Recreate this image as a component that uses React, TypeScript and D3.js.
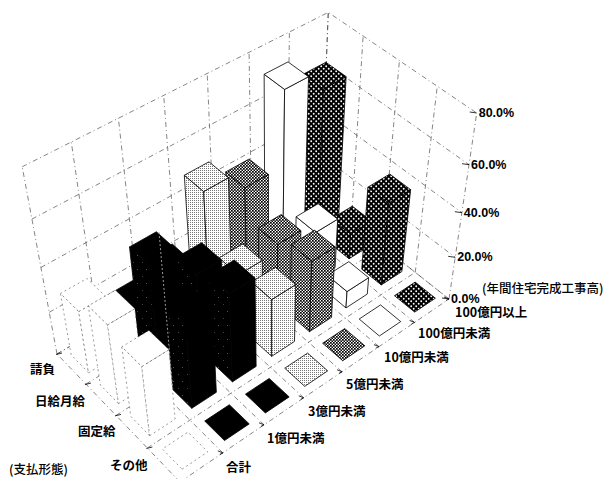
import React from "react";
import * as d3 from "d3";

// Axis categories
const sizeLabels = ["合計", "1億円未満", "3億円未満", "5億円未満", "10億円未満", "100億円未満", "100億円以上"];
const payLabels = ["その他", "固定給", "日給月給", "請負"];
const percentTicks = [0, 20, 40, 60, 80];

// Share of firms (%), one list per payment type, ordered as sizeLabels
const sonota = [0, 0, 0, 0, 0, 0, 0];
const koteikyu = [33, 40, 41, 27, 33, 8, 38];
const nikkyu = [37, 51, 36, 25, 28, 23, 12];
const ukeoi = [29, 17, 23, 49, 41, 72, 64];
const rows = [sonota, koteikyu, nikkyu, ukeoi];

const fillBySize = ["white", "url(#solid)", "url(#solid)", "url(#light)", "url(#gray)", "white", "url(#dots)"];
const leftFillBySize = ["white", "url(#speck)", "url(#speck)", "url(#light)", "url(#gray)", "white", "url(#dots)"];

// Corners of the floor on the page and the convergence point of the uprights
const F = [180, 482], R = [449, 299], B = [321, 198], L = [57, 354];
const VP = [270, 1500];
const rightTop = 113;

const dx3 = F[0] - R[0] + B[0] - L[0], dy3 = F[1] - R[1] + B[1] - L[1];
const dx1 = R[0] - B[0], dx2 = L[0] - B[0], dy1 = R[1] - B[1], dy2 = L[1] - B[1];
const den = dx1 * dy2 - dx2 * dy1;
const g = (dx3 * dy2 - dx2 * dy3) / den, h = (dx1 * dy3 - dx3 * dy1) / den;
const a = R[0] - F[0] + g * R[0], b = L[0] - F[0] + h * L[0];
const d = R[1] - F[1] + g * R[1], e = L[1] - F[1] + h * L[1];
const lift = ((1 + g) * (rightTop - R[1])) / (VP[1] - rightTop);

const zScale = d3.scaleLinear().domain([0, 80]).range([0, 1]);
const uBand = d3.scaleBand<string>().domain(sizeLabels).range([0, 1]).paddingInner(0.4).paddingOuter(0.2);
const vBand = d3.scaleBand<string>().domain(payLabels).range([0, 1]).paddingInner(0.4).paddingOuter(0.2);

function project(u: number, v: number, pct = 0): [number, number] {
  const t = lift * zScale(pct);
  const w = g * u + h * v + 1 + t;
  return [(a * u + b * v + F[0] + t * VP[0]) / w, (d * u + e * v + F[1] + t * VP[1]) / w];
}

const line = d3.line();
const closed = (pts: [number, number][]) => line(pts) + "Z";

const uTicks = d3.range(0, 8).map((i) => i / 7);
const vTicks = d3.range(0, 5).map((i) => i / 4);

const gridStyle = { stroke: "#333", strokeWidth: 0.6, strokeDasharray: "5 3 1 3", fill: "none" };

function Bar({ i, j }: { i: number; j: number }) {
  const u0 = uBand(sizeLabels[i])!, u1 = u0 + uBand.bandwidth();
  const v0 = vBand(payLabels[j])!, v1 = v0 + vBand.bandwidth();
  const val = rows[j][i];
  const faint = i === 0;
  const style = faint
    ? { stroke: "#555", strokeWidth: 0.6, strokeDasharray: "2 3" }
    : { stroke: "#000", strokeWidth: 0.8 };
  return (
    <g style={style as React.CSSProperties}>
      {val > 0 && (
        <>
          <path d={closed([project(u0, v0), project(u0, v1), project(u0, v1, val), project(u0, v0, val)])} fill={leftFillBySize[i]} />
          <path d={closed([project(u0, v0), project(u1, v0), project(u1, v0, val), project(u0, v0, val)])} fill={fillBySize[i]} />
        </>
      )}
      <path d={closed([project(u0, v0, val), project(u1, v0, val), project(u1, v1, val), project(u0, v1, val)])} fill={fillBySize[i]} />
    </g>
  );
}

const textStyle: React.CSSProperties = { fontFamily: "'Noto Sans CJK JP', sans-serif", fontSize: 12.5, fontWeight: 700, fill: "#000" };
const numStyle: React.CSSProperties = { fontFamily: "'Liberation Sans', sans-serif", fontSize: 12.5, fontWeight: 700, fill: "#000" };

const sizeLabelPos = [[226, 472], [267, 443], [308, 416], [346, 389], [384, 362], [418, 338], [455, 317]];
const payLabelPos = [[110, 470], [78, 436], [35, 406], [30, 374]];

// Light corner guide showing through the black columns
const guideU = uBand(sizeLabels[1])!;
const guideV = vBand(payLabels[1])! + vBand.bandwidth();

export default function App() {
  return (
    <svg width={604} height={479} style={{ position: "absolute", left: 0, top: 0, background: "#fff" }}>
      <defs>
        <pattern id="solid" width="4" height="4" patternUnits="userSpaceOnUse">
          <rect width="4" height="4" fill="#000" />
        </pattern>
        <pattern id="speck" width="9" height="14" patternUnits="userSpaceOnUse">
          <rect width="9" height="14" fill="#000" />
          <rect x="2" y="3" width="1" height="1" fill="#555" />
          <rect x="7" y="10" width="1" height="1" fill="#444" />
        </pattern>
        <pattern id="dots" width="5" height="5" patternUnits="userSpaceOnUse">
          <rect width="5" height="5" fill="#000" />
          <circle cx="1.2" cy="1.2" r="0.95" fill="#fff" />
          <circle cx="3.7" cy="3.7" r="0.95" fill="#fff" />
        </pattern>
        <pattern id="gray" width="3" height="3" patternUnits="userSpaceOnUse">
          <rect width="3" height="3" fill="#fff" />
          <rect width="1.7" height="1.7" fill="#000" />
          <rect x="1.5" y="1.5" width="1.5" height="1.5" fill="#000" />
        </pattern>
        <pattern id="light" width="2" height="2" patternUnits="userSpaceOnUse">
          <rect width="2" height="2" fill="#fff" />
          <rect width="1" height="1" fill="#777" />
        </pattern>
      </defs>

      {/* back walls */}
      <g style={gridStyle}>
        {percentTicks.map((p) => (
          <path key={p} d={line([project(0, 1, p), project(1, 1, p), project(1, 0, p)])!} />
        ))}
        {uTicks.map((u) => (
          <path key={u} d={line([project(u, 1, 0), project(u, 1, 80)])!} />
        ))}
        {vTicks.map((v) => (
          <path key={v} d={line([project(1, v, 0), project(1, v, 80)])!} />
        ))}
        {/* floor grid */}
        {uTicks.map((u) => (
          <path key={u} d={line([project(u, 0), project(u, 1)])!} />
        ))}
        {vTicks.map((v) => (
          <path key={v} d={line([project(0, v), project(1, v)])!} />
        ))}
      </g>

      {/* tick stubs along the three outer axes */}
      <g stroke="#000" strokeWidth={0.8} fill="none">
        {uTicks.map((u) => {
          const [x, y] = project(u, 0);
          return <path key={u} d={`M${x - 5},${y - 2}L${x},${y}M${x - 3},${y + 1.5}L${x},${y}`} />;
        })}
        {vTicks.map((v) => {
          const [x, y] = project(0, v);
          return <path key={v} d={`M${x + 5},${y - 1}L${x - 1},${y + 0.5}`} />;
        })}
        {percentTicks.map((p) => {
          const [x, y] = project(1, 0, p);
          return <path key={p} d={`M${x - 7},${y - 1}L${x},${y}`} />;
        })}
      </g>

      {/* bars, drawn from the far corner towards the viewer */}
      {d3.range(3, -1, -1).map((j) =>
        d3.range(6, -1, -1).map((i) => <Bar key={`${i}-${j}`} i={i} j={j} />)
      )}

      <path
        d={line([project(guideU, guideV, 0), project(guideU, guideV, 70)])!}
        stroke="#999"
        strokeWidth={1}
        strokeDasharray="2 2"
        fill="none"
      />

      {percentTicks.map((p) => {
        const [x, y] = project(1, 0, p);
        return (
          <text key={p} x={x + 2} y={y + (p === 0 ? 3.5 : 4)} style={numStyle}>
            {p.toFixed(1)}%
          </text>
        );
      })}
      {sizeLabels.map((s, i) => (
        <text key={s} x={sizeLabelPos[i][0]} y={sizeLabelPos[i][1]} style={textStyle}>
          {s}
        </text>
      ))}
      {payLabels.map((s, j) => (
        <text key={s} x={payLabelPos[j][0]} y={payLabelPos[j][1]} style={textStyle}>
          {s}
        </text>
      ))}
      <text x={482} y={293} style={{ ...textStyle, fontWeight: 500 }}>(年間住宅完成工事高)</text>
      <text x={9} y={474} style={{ ...textStyle, fontWeight: 500 }}>(支払形態)</text>
    </svg>
  );
}
